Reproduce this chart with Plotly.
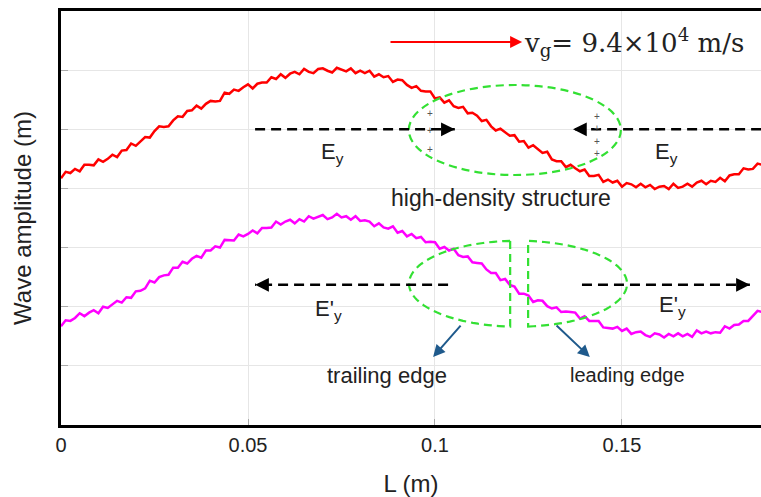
import numpy as np
import plotly.graph_objects as go

# ---- data ----
L_step = 0.00125
n_pts = 151
L = [round(i * L_step, 5) for i in range(n_pts)]

red_wave = [4.17, 4.28, 4.26, 4.33, 4.29, 4.40, 4.40, 4.39, 4.49, 4.45,
            4.50, 4.57, 4.53, 4.64, 4.65, 4.76, 4.72, 4.79, 4.87, 4.86,
            4.97, 5.05, 5.04, 5.05, 5.15, 5.22, 5.21, 5.31, 5.32, 5.40,
            5.35, 5.43, 5.48, 5.47, 5.48, 5.62, 5.60, 5.67, 5.65, 5.71,
            5.76, 5.69, 5.77, 5.79, 5.79, 5.88, 5.85, 5.93, 5.87, 5.94,
            5.97, 5.93, 6.02, 5.97, 5.95, 6.02, 6.03, 5.99, 5.96, 6.04,
            6.01, 5.98, 6.03, 5.95, 5.99, 5.95, 5.99, 5.89, 5.93, 5.88,
            5.90, 5.80, 5.84, 5.83, 5.75, 5.70, 5.73, 5.65, 5.64, 5.64,
            5.52, 5.54, 5.45, 5.49, 5.39, 5.36, 5.38, 5.27, 5.28, 5.23,
            5.14, 5.16, 5.05, 4.98, 5.01, 4.95, 4.89, 4.90, 4.79, 4.80,
            4.69, 4.73, 4.67, 4.60, 4.62, 4.49, 4.46, 4.46, 4.36, 4.40,
            4.34, 4.29, 4.32, 4.21, 4.21, 4.23, 4.11, 4.15, 4.10, 4.13,
            4.03, 4.09, 4.07, 4.02, 4.08, 4.02, 4.06, 3.99, 4.03, 4.04,
            3.99, 4.08, 4.01, 4.03, 4.08, 4.03, 4.10, 4.13, 4.07, 4.13,
            4.11, 4.18, 4.12, 4.22, 4.24, 4.24, 4.34, 4.32, 4.33, 4.42,
            4.40]

magenta_wave = [1.67, 1.77, 1.76, 1.81, 1.89, 1.84, 1.90, 1.94, 1.89, 2.00,
                1.98, 2.04, 2.10, 2.07, 2.16, 2.15, 2.26, 2.27, 2.31, 2.44,
                2.41, 2.50, 2.53, 2.54, 2.66, 2.66, 2.76, 2.73, 2.81, 2.86,
                2.83, 2.95, 2.95, 3.02, 3.00, 3.13, 3.12, 3.12, 3.22, 3.19,
                3.23, 3.29, 3.24, 3.33, 3.33, 3.34, 3.44, 3.39, 3.44, 3.47,
                3.41, 3.48, 3.44, 3.53, 3.49, 3.52, 3.55, 3.48, 3.51, 3.57,
                3.51, 3.53, 3.47, 3.53, 3.45, 3.46, 3.44, 3.36, 3.41, 3.34,
                3.32, 3.36, 3.25, 3.28, 3.19, 3.23, 3.16, 3.18, 3.09, 3.10,
                3.09, 2.98, 3.01, 2.95, 2.98, 2.87, 2.84, 2.85, 2.75, 2.74,
                2.73, 2.63, 2.57, 2.57, 2.45, 2.47, 2.37, 2.34, 2.22, 2.22,
                2.19, 2.08, 2.11, 2.10, 2.01, 1.97, 1.99, 1.91, 1.92, 1.91,
                1.90, 1.80, 1.84, 1.76, 1.76, 1.76, 1.65, 1.64, 1.63, 1.66,
                1.59, 1.63, 1.54, 1.57, 1.58, 1.52, 1.49, 1.55, 1.53, 1.48,
                1.54, 1.50, 1.55, 1.50, 1.54, 1.49, 1.60, 1.55, 1.58, 1.55,
                1.57, 1.56, 1.67, 1.63, 1.69, 1.70, 1.76, 1.76, 1.85, 1.93,
                1.91]

x_ticks = [0, 0.05, 0.1, 0.15]
x_tick_labels = ["0", "0.05", "0.1", "0.15"]
y_ticks = [1, 2, 3, 4, 5, 6]

SANS = "Liberation Sans, Arial, sans-serif"
SERIF = "DejaVu Serif, Liberation Serif, serif"
TXT = "#222222"

fig = go.Figure()
fig.add_trace(go.Scatter(x=L, y=red_wave, mode="lines",
                         line=dict(color="#ff0000", width=2.5), showlegend=False))
fig.add_trace(go.Scatter(x=L, y=magenta_wave, mode="lines",
                         line=dict(color="#ff00ff", width=2.5), showlegend=False))

GREEN = "#33e033"
gdash = "8px,5px"

# upper ellipse
fig.add_shape(type="circle", xref="x", yref="y", x0=0.0930, x1=0.1497, y0=4.227, y1=5.749,
              line=dict(color=GREEN, width=2.2, dash=gdash))

# lower split ellipse (two D shapes)
cx, cy, rx, ry = 0.1222, 2.389, 0.02914, 0.727
def arc_path(t0, t1, n=60):
    t = np.linspace(t0, t1, n)
    xs = cx + rx * np.cos(t)
    ys = cy + ry * np.sin(t)
    return "M " + " L ".join(f"{a:.5f},{b:.4f}" for a, b in zip(xs, ys)) + " Z"
tl = np.arccos((0.1201 - cx) / rx)
tr = np.arccos((0.1249 - cx) / rx)
fig.add_shape(type="path", xref="x", yref="y", path=arc_path(tl, 2 * np.pi - tl),
              line=dict(color=GREEN, width=2.2, dash=gdash))
fig.add_shape(type="path", xref="x", yref="y", path=arc_path(-tr, tr),
              line=dict(color=GREEN, width=2.2, dash=gdash))

# black dashed arrows
bdash = "10px,6px"
def dashed_arrow(xs, xe, y):
    fig.add_shape(type="line", xref="x", yref="y", x0=xs, x1=xe, y0=y, y1=y,
                  line=dict(color="black", width=2.5, dash=bdash))
    direction = 1 if xe > xs else -1
    fig.add_annotation(x=xe, y=y, xref="x", yref="y", text="", showarrow=True,
                       ax=-12 * direction, ay=0, arrowhead=2, arrowsize=1.1,
                       arrowwidth=2.5, arrowcolor="black", standoff=0)

dashed_arrow(0.0519, 0.1053, 5.0)
dashed_arrow(0.1872, 0.1369, 5.0)
dashed_arrow(0.1035, 0.0519, 2.37)
dashed_arrow(0.1393, 0.1842, 2.37)

# blue arrows
BLUE = "#1f5a8c"
for (x0, y0, x1, y1) in [(0.1072, 1.707, 0.0995, 1.149), (0.1321, 1.707, 0.1414, 1.149)]:
    fig.add_annotation(x=x1, y=y1, ax=x0, ay=y0, xref="x", yref="y", axref="x", ayref="y",
                       text="", showarrow=True, arrowhead=2, arrowsize=1.2,
                       arrowwidth=2, arrowcolor=BLUE, standoff=0)

# red arrow + v_g text
fig.add_annotation(x=0.1233, y=6.476, ax=0.0877, ay=6.476, xref="x", yref="y",
                   axref="x", ayref="y", text="", showarrow=True, arrowhead=2,
                   arrowsize=1.2, arrowwidth=2, arrowcolor="#ff0000", standoff=0)
fig.add_annotation(x=0.1233, y=6.47, xref="x", yref="y", xanchor="left", yanchor="middle",
                   text="v<sub>g</sub>= 9.4×10<sup>4</sup> m/s", showarrow=False,
                   font=dict(family=SERIF, size=26, color=TXT))

# text labels
def label(x, y, t, size=20, color=TXT):
    fig.add_annotation(x=x, y=y, xref="x", yref="y", text=t, showarrow=False,
                       font=dict(family=SANS, size=size, color=color))

label(0.0727, 4.60, "E<sub>y</sub>", size=22)
label(0.1620, 4.60, "E<sub>y</sub>", size=22)
label(0.0714, 1.95, "E'<sub>y</sub>", size=22)
label(0.1636, 2.01, "E'<sub>y</sub>", size=22)
label(0.1176, 3.84, "high-density structure", size=23)
label(0.0872, 0.836, "trailing edge", size=22)
label(0.1514, 0.853, "leading edge", size=20)

# plus signs
for (x, y) in [(0.0987, 5.275), (0.0987, 4.988), (0.0987, 4.650),
               (0.1433, 5.208), (0.1433, 5.005), (0.1433, 4.802), (0.1433, 4.599)]:
    label(x, y, "+", size=10, color="#555555")

fig.update_layout(
    width=761, height=497,
    margin=dict(l=61, r=0, t=11, b=72),
    plot_bgcolor="white", paper_bgcolor="white",
    font=dict(family=SANS, color=TXT),
    showlegend=False,
)
fig.update_xaxes(
    range=[0, 0.18717], tickvals=x_ticks, ticktext=x_tick_labels,
    showgrid=True, gridcolor="#e6e6e6", gridwidth=1,
    ticks="inside", ticklen=6, tickcolor="#aaaaaa",
    showline=True, linecolor="black", linewidth=2.5, mirror=True,
    tickfont=dict(size=20, color=TXT),
    title=dict(text="L (m)", font=dict(size=24, color=TXT), standoff=24),
    zeroline=False,
)
fig.update_yaxes(
    range=[0, 7], tickvals=y_ticks, showticklabels=False,
    showgrid=True, gridcolor="#e6e6e6", gridwidth=1,
    ticks="inside", ticklen=7, tickcolor="#aaaaaa",
    showline=True, linecolor="black", linewidth=2.5,
    title=dict(text="Wave amplitude (m)", font=dict(size=24, color=TXT), standoff=20),
    zeroline=False,
)

fig.write_html("out.html")
